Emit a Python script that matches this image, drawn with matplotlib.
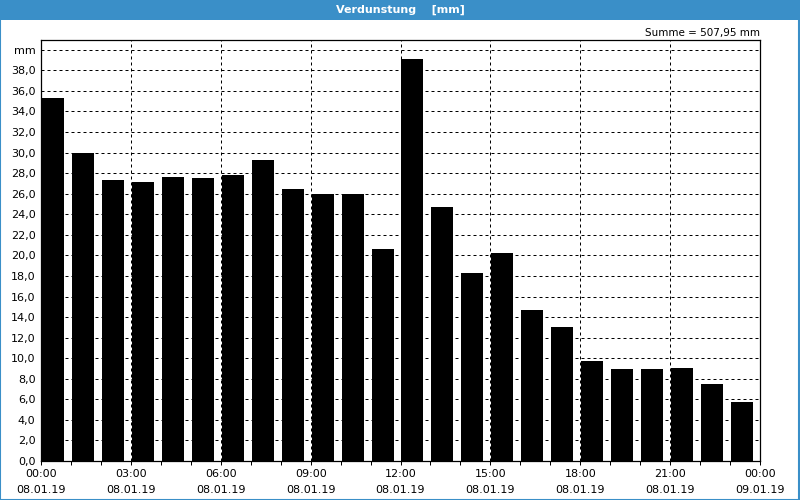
import numpy as np
import matplotlib.pyplot as plt
from matplotlib.patches import Rectangle

# hourly evaporation, 08.01.19 00:00 .. 09.01.19 00:00
hours = np.arange(24)
values = [35.35, 30.0, 27.3, 27.1, 27.6, 27.5, 27.8, 29.25, 26.5, 25.97, 25.94, 20.6,
          39.1, 24.74, 18.3, 20.2, 14.7, 13.0, 9.74, 8.97, 8.97, 9.07, 7.5, 5.74]
tick_hours = [0, 3, 6, 9, 12, 15, 18, 21, 24]
tick_labels = ["00:00\n08.01.19", "03:00\n08.01.19", "06:00\n08.01.19",
               "09:00\n08.01.19", "12:00\n08.01.19", "15:00\n08.01.19",
               "18:00\n08.01.19", "21:00\n08.01.19", "00:00\n09.01.19"]
y_ticks = np.arange(0, 41, 2)
y_labels = [f"{v:.1f}".replace(".", ",") for v in y_ticks[:-1]] + ["mm"]
title = "Verdunstung    [mm]"
summe = "Summe = 507,95 mm"

blue = "#3a8fc8"
plt.rcParams['font.family'] = ['DejaVu Sans']

fig = plt.figure(figsize=(8, 5), dpi=100, facecolor="white")

# title bar and outer frame
fig.patches.append(Rectangle((0, 0.96), 1, 0.04, transform=fig.transFigure,
                             facecolor=blue, edgecolor="none", zorder=0))
fig.patches.append(Rectangle((0.0006, 0.001), 0.9982, 0.997, transform=fig.transFigure,
                             facecolor="none", edgecolor=blue, linewidth=1.5, zorder=5))
fig.text(0.5, 0.981, title, color="white", fontsize=8, fontweight="bold",
         ha="center", va="center")

ax = fig.add_axes([0.05125, 0.078, 0.89875, 0.842])
ax.bar(hours + 1 / 30, values, width=22 / 30, align="edge", color="black", zorder=3)

ax.set_xlim(0, 24)
ax.set_ylim(0, 40.95)
ax.set_xticks(tick_hours)
ax.set_xticklabels(tick_labels, fontsize=8, linespacing=1.75)
ax.set_xticks(np.arange(0, 25), minor=True)
ax.tick_params(axis="x", which="both", direction="out", length=3, width=0.72, pad=3)
ax.set_yticks(y_ticks)
ax.set_yticklabels(y_labels, fontsize=8)
ax.tick_params(axis="y", length=0, pad=4)

ax.grid(True, which="major", color="black", linestyle=(0, (3, 3)), linewidth=0.72, zorder=1)
ax.set_axisbelow(True)
for s in ax.spines.values():
    s.set_linewidth(0.9)
    s.set_zorder(4)

ax.text(1.0, 1.005, summe, transform=ax.transAxes, ha="right", va="bottom", fontsize=7.5)

fig.savefig("out.png", dpi=100)
